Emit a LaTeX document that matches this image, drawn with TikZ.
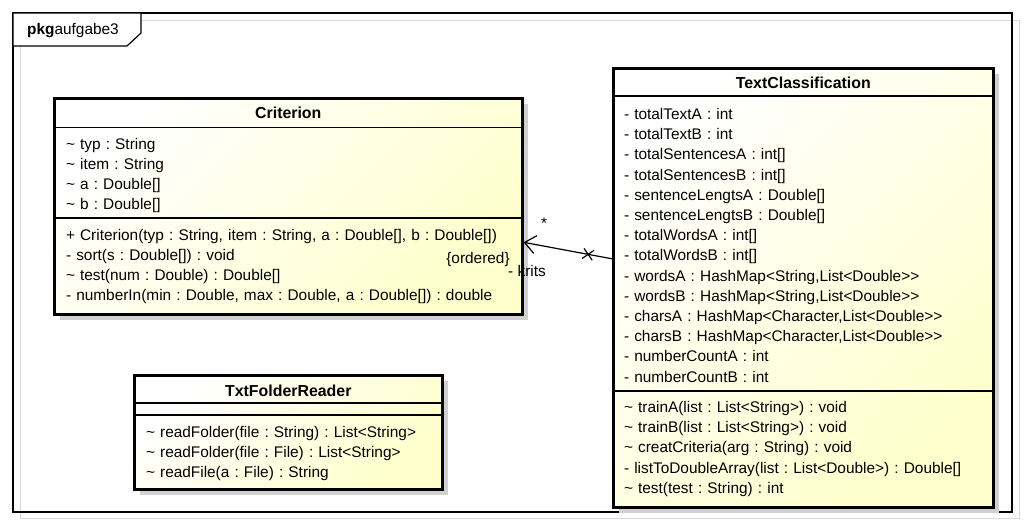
\documentclass[tikz,border=0pt]{standalone}
\usepackage{fontspec}
\setmainfont{Liberation Sans}
\usepackage{tikz}
\usetikzlibrary{positioning,chains,shadows,shapes.misc,arrows.meta}

\definecolor{umlfill}{RGB}{255,255,204}
\definecolor{umlshadow}{RGB}{208,208,208}
\definecolor{framegray}{RGB}{216,216,216}
\newcommand{\umlfont}{\fontsize{15.4}{18}\selectfont\frenchspacing}
\newcommand{\umlhead}{\fontsize{15.9}{18}\selectfont\bfseries}

\begin{document}
\begin{tikzpicture}[x=1pt, y=-1pt, font=\umlfont,
    classbox/.style={draw, line width=2.6pt, anchor=north west, inner sep=0pt,
      drop shadow={shadow xshift=6pt, shadow yshift=-6pt, fill=umlshadow, opacity=1},
      top color=white, bottom color=umlfill, shading angle=45},   % Style for the class rectangles
    head/.style={font=\umlhead, inner sep=0pt},                     % Style for the class names
    divline/.style={line width=1.2pt},                              % Style for the compartment lines
    member/.style={text width=#1, align=left, inner sep=0pt, outer sep=0pt,
      minimum height=20.2pt, text height=10pt, text depth=0pt},     % Style for one attribute or operation
    memc/.style={member=#1, on chain},                              % Style for the members in a chain
    node distance=0pt,
    assoc/.style={line width=1.2pt, -{Straight Barb[length=11pt, width=18pt, line width=1.2pt]}},
    nonnav/.style={cross out, draw, line width=1.2pt, minimum size=9pt, inner sep=0pt, sloped}
    ]
    \useasboundingbox (0,0) rectangle (1026,525);

    % Package frame with its tab
    \draw[framegray, line width=1pt] (20,20) rectangle (1019,518);
    \draw[line width=1.2pt] (13,13) rectangle (1012,512);
    \draw[line width=1.2pt, fill=white] (13,13) -- (141,13) -- (141,33) -- (127,46) -- (13,46) -- cycle;
    \node[anchor=west, inner sep=0pt] (pkg) at (27,31) {\textbf{pkg}aufgabe3};

    % Class boxes
    \node[classbox, minimum width=468pt, minimum height=216pt] (crit) at (53,97) {};
    \node[classbox, minimum width=380pt, minimum height=439pt] (tc) at (612,67) {};
    \node[classbox, minimum width=308pt, minimum height=114pt] (tfr) at (133,374) {};

    % Class names and compartments
    \node[head] (crithead) at (crit.north |- 0,113) {Criterion};
    \node[head] (tchead) at (tc.north |- 0,83) {TextClassification};
    \node[head] (tfrhead) at (tfr.north |- 0,391) {TxtFolderReader};
    \draw[divline] (crit.west |- 0,127.5) -- (crit.east |- 0,127.5);
    \draw[divline] (crit.west |- 0,218) -- (crit.east |- 0,218);
    \draw[divline] (tc.west |- 0,96) -- (tc.east |- 0,96);
    \draw[divline] (tc.west |- 0,391) -- (tc.east |- 0,391);
    \draw[divline] (tfr.west |- 0,403) -- (tfr.east |- 0,403);
    \draw[divline] (tfr.west |- 0,415) -- (tfr.east |- 0,415);

    % Criterion members
    \begin{scope}[start chain=ca going below]
    \node[memc=455pt, at={(293.5,144)}] (ca1) {\textasciitilde{} typ : String};
    \node[memc=455pt] (ca2) {\textasciitilde{} item : String};
    \node[memc=455pt] (ca3) {\textasciitilde{} a : Double[]};
    \node[memc=455pt] (ca4) {\textasciitilde{} b : Double[]};
    \end{scope}
    \begin{scope}[start chain=co going below]
    \node[memc=455pt, at={(293.5,235)}] (co1) {+ Criterion(typ : String, item : String, a : Double[], b : Double[])};
    \node[memc=455pt] (co2) {- sort(s : Double[]) : void};
    \node[memc=455pt] (co3) {\textasciitilde{} test(num : Double) : Double[]};
    \node[memc=455pt] (co4) {- numberIn(min : Double, max : Double, a : Double[]) : double};
    \end{scope}

    % TextClassification members
    \begin{scope}[start chain=ta going below]
    \node[memc=370pt, at={(809,114.5)}] (ta1) {- totalTextA : int};
    \node[memc=370pt] (ta2) {- totalTextB : int};
    \node[memc=370pt] (ta3) {- totalSentencesA : int[]};
    \node[memc=370pt] (ta4) {- totalSentencesB : int[]};
    \node[memc=370pt] (ta5) {- sentenceLengtsA : Double[]};
    \node[memc=370pt] (ta6) {- sentenceLengtsB : Double[]};
    \node[memc=370pt] (ta7) {- totalWordsA : int[]};
    \node[memc=370pt] (ta8) {- totalWordsB : int[]};
    \node[memc=370pt] (ta9) {- wordsA : HashMap<String,List<Double>\kern0pt>};
    \node[memc=370pt] (ta10) {- wordsB : HashMap<String,List<Double>\kern0pt>};
    \node[memc=370pt] (ta11) {- charsA : HashMap<Character,List<Double>\kern0pt>};
    \node[memc=370pt] (ta12) {- charsB : HashMap<Character,List<Double>\kern0pt>};
    \node[memc=370pt] (ta13) {- numberCountA : int};
    \node[memc=370pt] (ta14) {- numberCountB : int};
    \end{scope}
    \begin{scope}[start chain=to going below]
    \node[memc=370pt, at={(809,407.5)}] (to1) {\textasciitilde{} trainA(list : List<String>) : void};
    \node[memc=370pt] (to2) {\textasciitilde{} trainB(list : List<String>) : void};
    \node[memc=370pt] (to3) {\textasciitilde{} creatCriteria(arg : String) : void};
    \node[memc=370pt] (to4) {- listToDoubleArray(list : List<Double>) : Double[]};
    \node[memc=370pt] (to5) {\textasciitilde{} test(test : String) : int};
    \end{scope}

    % TxtFolderReader members
    \begin{scope}[start chain=fo going below]
    \node[memc=290pt, at={(291,432)}] (fo1) {\textasciitilde{} readFolder(file : String) : List<String>};
    \node[memc=290pt] (fo2) {\textasciitilde{} readFolder(file : File) : List<String>};
    \node[memc=290pt] (fo3) {\textasciitilde{} readFile(a : File) : String};
    \end{scope}

    % Association TextClassification -> Criterion
    \draw[assoc] ([yshift=29pt]tc.west) -- node[nonnav, pos=0.27] (cross) {} ([yshift=-36pt]crit.east);
    \node[inner sep=0pt] (mult) at (544,223.5) {*};
    \node[inner sep=0pt] (ord) at (478,260) {\{ordered\}};
    \node[anchor=west, inner sep=0pt] (role) at (508,271) {- krits};

\end{tikzpicture}
\end{document}
